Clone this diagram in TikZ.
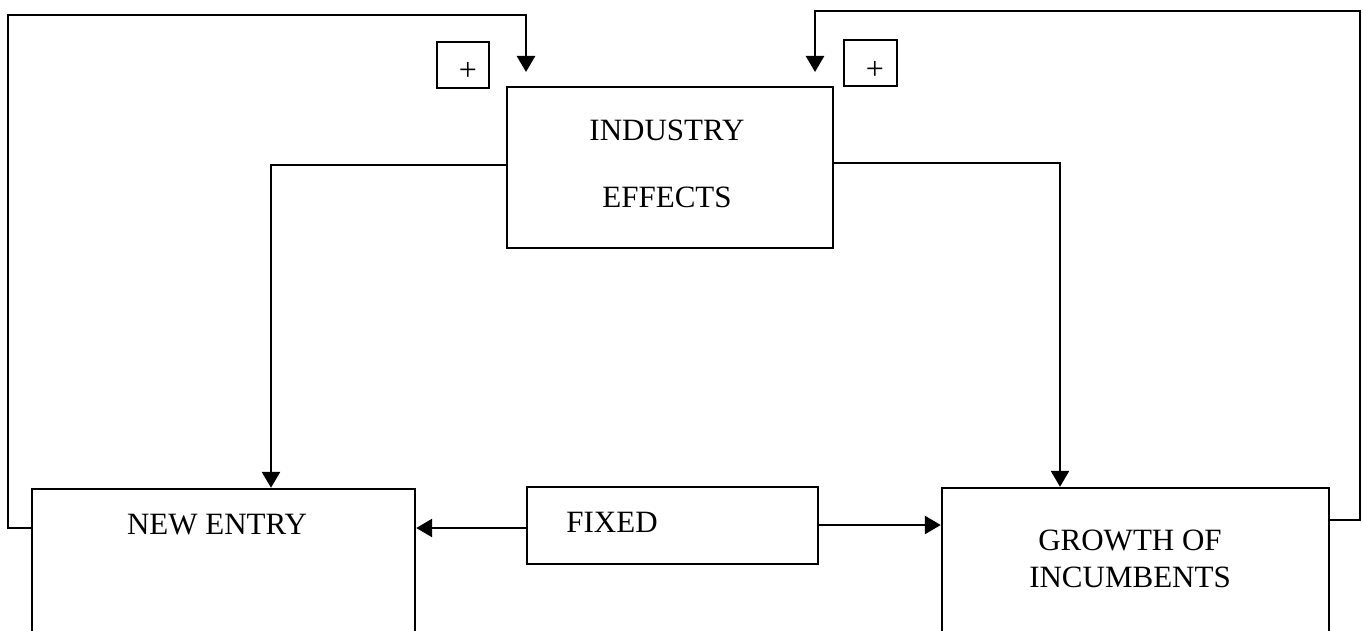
\documentclass[tikz,border=0pt]{standalone}
\usepackage{fontspec}
\setmainfont{Liberation Serif}
\usetikzlibrary{arrows.meta}
\begin{document}
\begin{tikzpicture}[x=1pt,y=-1pt,
  line width=2.6pt,
  box/.style={draw,rectangle,inner sep=0pt,line width=2.4pt},
  lbl/.style={inner sep=0pt,font=\fontsize{31}{37}\selectfont},
  plus/.style={inner sep=0pt,font=\fontsize{32}{38}\selectfont},
  arr/.style={-{Triangle[width=18pt,length=16pt]}}]
\useasboundingbox (0,0) rectangle (1363,631);
\clip (0,0) rectangle (1363,631);
\fill[white] (0,0) rectangle (1363,631);
% boxes
\node[box,minimum width=326pt,minimum height=161pt] (ind) at (670,167.5) {};
\node[box,minimum width=383pt,minimum height=222pt] (new) at (223.5,600) {};
\node[box,minimum width=291pt,minimum height=77pt] (fixed) at (672.5,525.5) {};
\node[box,minimum width=387pt,minimum height=224pt] (growth) at (1135.5,600) {};
\node[box,minimum width=52pt,minimum height=46pt] (plusL) at (463,65) {};
\node[box,minimum width=53pt,minimum height=46pt] (plusR) at (870.5,63) {};
% texts
\node[lbl] (tInd) at (667,130) {INDUSTRY};
\node[lbl] (tEff) at (667,197) {EFFECTS};
\node[lbl] (tNew) at (217,525) {NEW ENTRY};
\node[lbl] (tFix) at (612,522) {FIXED};
\node[lbl] (tGro) at (1130,540) {GROWTH OF};
\node[lbl] (tInc) at (1130,577) {INCUMBENTS};
\node[plus] (pL) at (468,71) {+};
\node[plus] (pR) at (875,70) {+};
% arrow tips near top box
\coordinate (tipL) at (526,72);
\coordinate (tipR) at (815,72);
% connectors
\draw[arr] (ind.west |- 0,165) -| (new.north -| 271,0);
\draw[arr] (ind.east |- 0,163) -| (growth.north -| 1060,0);
\draw[arr] (fixed.west |- 0,528) -- (new.east |- 0,528);
\draw[arr] (fixed.east |- 0,525) -- (growth.west |- 0,525);
\draw[arr] (new.west |- 0,528) -- (8,528) |- (526,15) -- (tipL);
\draw[arr] (growth.east |- 0,520) -- (1360,520) |- (815,11) -- (tipR);
\end{tikzpicture}
\end{document}
